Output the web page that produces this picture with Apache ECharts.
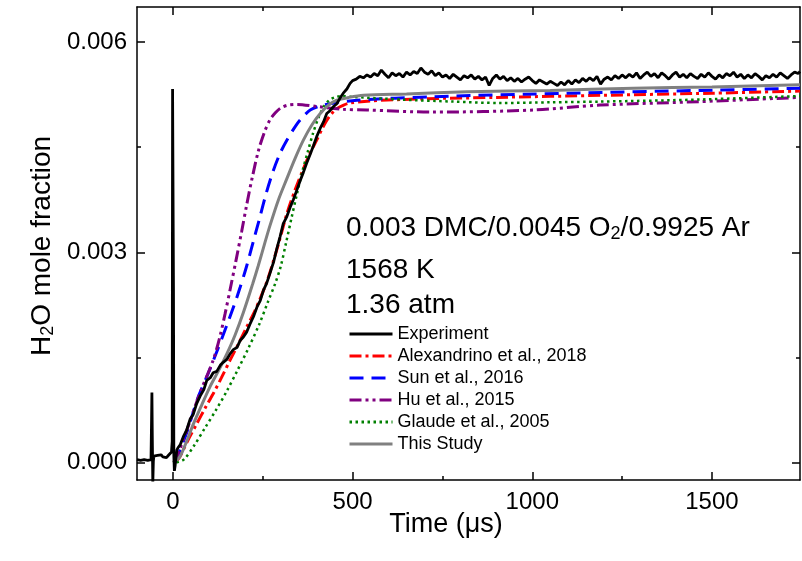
<!DOCTYPE html>
<html><head><meta charset="utf-8">
<script src="https://cdn.jsdelivr.net/npm/echarts@6/dist/echarts.min.js"></script>
<style>html,body{margin:0;padding:0;background:#fff}#c{width:802px;height:561px}</style>
</head><body><div id="c"></div>
<script>
const FONT = '"Liberation Sans", Arial, sans-serif';

const xMajorTicks = [0, 500, 1000, 1500];
const xMinorTicks = [250, 750, 1250];
const yMajorTicks = [0, 0.003, 0.006];
const yMinorTicks = [0.0015, 0.0045];

const names = ['Experiment', 'Alexandrino et al., 2018', 'Sun et al., 2016', 'Hu et al., 2015', 'Glaude et al., 2005', 'This Study'];

// Experiment: pre-shock, spikes and rise  [time (µs), mole fraction]
const expPre = [[-100,0.00004],[-95,0.00006],[-90,0.00003],[-85,0.00005],[-80,0.00004],[-75,0.00006],[-70,0.00003],[-65,0.00005],[-61,0.00004],
  [-59.5,0.0006],[-58.5,0.00100],[-57.5,0.0004],[-56,-0.0003],[-54.5,0.00002],[-53,0.00009],[-48,0.00007],[-43,0.0001],[-38,0.00008],
  [-33,0.00011],[-28,0.00008],[-23,0.0001],[-18,0.00007],[-13,0.0001],[-8,0.00008],[-4,0.00015],[-2,0.0003],[-1,0.00533],[0.5,0.00533],
  [1.5,0.0025],[2.5,0.0001],[4,-0.00012],[6,-0.00005],[8,0.00005],[11,0.00018],[14,0.00021]];
const expRise = [[20,0.00025],[30,0.00038],[38,0.00046],[48,0.00062],[56,0.00068],[66,0.00084],[76,0.00095],[86,0.00104],[94,0.00117],
  [104,0.00121],[112,0.00128],[122,0.0013],[132,0.00139],[140,0.00143],[150,0.00147],[159,0.00155],[168,0.00161],[178,0.00164],
  [187,0.00174],[196,0.00179],[205,0.00186],[214,0.00197],[224,0.00208],[234,0.00222],[243,0.00231],[252,0.00246],[261,0.00256],
  [270,0.0027],[280,0.00286],[289,0.00305],[298,0.00322],[307,0.00341],[317,0.00351],[326,0.00364],[335,0.00375],[345,0.00389],
  [354,0.00402],[363,0.00414],[372,0.00427],[382,0.0044],[391,0.00452],[400,0.00465],[410,0.00477],[419,0.00486],[428,0.00498],
  [437,0.00502],[447,0.00508],[456,0.00512],[465,0.0052],[474,0.00527],[484,0.00533],[493,0.00541],[500,0.00545]];
// Experiment plateau, sampled every 10 µs from 510 µs
const expPlateauStart = 510;
const expPlateauStep = 10;
const expPlateau = [
  0.00547,0.00551,0.00549,0.00553,0.00550,0.00555,
  0.00552,0.00560,0.00554,0.00549,0.00556,0.00552,0.00555,0.00550,0.00557,
  0.00553,0.00558,0.00555,0.00563,0.00557,0.00554,0.00559,0.00552,0.00556,0.00550,
  0.00553,0.00548,0.00554,0.00550,0.00546,0.00552,0.00549,0.00553,0.00547,0.00551,
  0.00546,0.00550,0.00538,0.00548,0.00553,0.00547,0.00551,0.00545,0.00549,0.00544,
  0.00548,0.00543,0.00547,0.00550,0.00545,0.00541,0.00546,0.00543,0.00540,0.00544,
  0.00541,0.00538,0.00543,0.00539,0.00545,0.00540,0.00546,0.00542,0.00548,0.00544,
  0.00549,0.00545,0.00551,0.00540,0.00547,0.00550,0.00546,0.00552,0.00548,0.00553,
  0.00549,0.00554,0.00550,0.00556,0.00548,0.00553,0.00557,0.00551,0.00555,0.00549,
  0.00556,0.00552,0.00547,0.00553,0.00557,0.00550,0.00554,0.00549,0.00555,0.00551,
  0.00548,0.00554,0.00550,0.00556,0.00551,0.00547,0.00553,0.00549,0.00555,0.00552,
  0.00557,0.00550,0.00554,0.00548,0.00553,0.00549,0.00555,0.00551,0.00546,0.00552,
  0.00549,0.00554,0.00550,0.00556,0.00552,0.00548,0.00553,0.00557,0.00555];
const expEnd = [[1745,0.00558]];

const alexandrino = [[5,0],[19,0.00008],[40,0.0003],[66,0.00055],[90,0.00078],[112,0.00098],[135,0.00121],[159,0.00146],[182,0.00169],
  [205,0.00193],[225,0.00213],[242,0.00233],[260,0.00256],[277,0.00283],[296,0.00316],[317,0.00355],[340,0.00389],[363,0.00419],
  [382,0.00442],[400,0.0046],[415,0.00476],[428,0.00488],[442,0.00498],[456,0.00505],[475,0.0051],[493,0.00513],[550,0.00516],
  [700,0.00519],[900,0.00521],[1200,0.00524],[1500,0.00527],[1745,0.0053]];
const sun = [[5,0],[20,0.00018],[40,0.00045],[70,0.00093],[98,0.00127],[122,0.00158],[150,0.00196],[170,0.00224],[187,0.0025],
  [205,0.0028],[225,0.00318],[242,0.0035],[260,0.00385],[279,0.00416],[298,0.00441],[317,0.0046],[345,0.00483],[365,0.00495],
  [382,0.00503],[410,0.00509],[437,0.00512],[512,0.00517],[724,0.00522],[1097,0.00527],[1468,0.00531],[1745,0.00534]];
const hu = [[5,0],[20,0.0002],[40,0.00048],[75,0.00099],[112,0.00146],[130,0.00178],[145,0.00212],[160,0.00249],[175,0.00287],
  [191,0.00329],[205,0.00367],[220,0.00405],[238,0.00445],[255,0.00472],[270,0.00489],[285,0.00499],[300,0.00506],[320,0.0051],
  [345,0.00511],[400,0.00508],[474,0.00504],[540,0.00503],[724,0.005],[1003,0.00503],[1189,0.0051],[1468,0.00515],[1745,0.00521]];
const glaude = [[10,0],[30,0.00004],[60,0.00025],[90,0.0005],[120,0.00075],[150,0.00102],[180,0.00132],[210,0.00163],[240,0.00197],
  [265,0.0023],[285,0.00256],[300,0.0028],[315,0.00314],[330,0.00349],[345,0.00383],[360,0.00415],[375,0.00443],[390,0.0047],
  [405,0.00492],[420,0.00508],[435,0.00517],[450,0.00521],[470,0.00523],[493,0.00522],[632,0.00518],[780,0.00515],[911,0.00513],
  [1050,0.00514],[1189,0.00515],[1468,0.00518],[1745,0.00523]];
const thisStudy = [[0,0],[19,0.00008],[38,0.0003],[57,0.00055],[80,0.00082],[103,0.00108],[127,0.00131],[150,0.00155],[173,0.00182],
  [196,0.00214],[222,0.00255],[237,0.0028],[255,0.00312],[270,0.00338],[293,0.00374],[317,0.00405],[340,0.00434],[363,0.0046],
  [387,0.00482],[410,0.00498],[433,0.0051],[456,0.00517],[490,0.00521],[530,0.00524],[650,0.00526],[818,0.00529],[1050,0.00531],
  [1281,0.00534],[1500,0.00536],[1745,0.00539]];

const experiment = expPre.concat(expRise,
  expPlateau.map((v, i) => [expPlateauStart + i * expPlateauStep, v]), expEnd);

const XMIN = -100, XMAX = 1745, YMIN = -0.00025, YMAX = 0.0065;
const LINE = {show: true, onZero: false, lineStyle: {color: '#000', width: 1.5}};

function xAx(position, ticks, len, withLine, withLabel) {
  return {type: 'value', min: XMIN, max: XMAX, position,
    axisLine: withLine ? LINE : {show: false, onZero: false},
    axisTick: {show: true, inside: true, length: len, customValues: ticks, lineStyle: {color: '#000', width: 1.5}},
    axisLabel: withLabel ? {show: true, customValues: ticks, color: '#000', fontSize: 24, fontFamily: FONT, margin: 10,
      formatter: v => String(v)} : {show: false},
    splitLine: {show: false}};
}
function yAx(position, ticks, len, withLine, withLabel) {
  return {type: 'value', min: YMIN, max: YMAX, position,
    axisLine: withLine ? LINE : {show: false, onZero: false},
    axisTick: {show: true, inside: true, length: len, customValues: ticks, lineStyle: {color: '#000', width: 1.5}},
    axisLabel: withLabel ? {show: true, customValues: ticks, color: '#000', fontSize: 24, fontFamily: FONT, margin: 10,
      formatter: v => v.toFixed(3)} : {show: false},
    splitLine: {show: false}};
}

function line(name, data, color, width, type, z, smooth) {
  return {name, type: 'line', data, symbol: 'none', showSymbol: false, z, smooth,
    lineStyle: {color, width, type}, itemStyle: {color}, emphasis: {disabled: true}};
}

const chart = echarts.init(document.getElementById('c'), null, {renderer: 'canvas'});
chart.setOption({
  animation: false,
  backgroundColor: '#fff',
  grid: {left: 137, right: 2, top: 7, bottom: 81, containLabel: false},
  xAxis: [xAx('bottom', xMajorTicks, 8, true, true), xAx('bottom', xMinorTicks, 4, false, false),
          xAx('top', xMajorTicks, 8, true, false), xAx('top', xMinorTicks, 4, false, false)],
  yAxis: [yAx('left', yMajorTicks, 8, true, true), yAx('left', yMinorTicks, 4, false, false),
          yAx('right', yMajorTicks, 8, true, false), yAx('right', yMinorTicks, 4, false, false)],
  legend: {data: names, orient: 'vertical', left: 348, top: 325, padding: 0, itemWidth: 43, itemHeight: 14, itemGap: 4,
    itemStyle: {opacity: 0}, lineStyle: {width: 3},
    textStyle: {fontSize: 18, color: '#000', fontFamily: FONT, lineHeight: 14}, selectedMode: false},
  series: [
    line(names[1], alexandrino, '#ff0000', 3, [12, 4, 3, 4], 2, 0.3),
    line(names[2], sun, '#0000ff', 3, [14, 8], 2, 0.3),
    line(names[3], hu, '#800080', 3, [12, 4, 3, 4, 3, 4], 2, 0.3),
    line(names[4], glaude, '#008000', 2.5, [2.5, 3.5], 2, 0.3),
    line(names[5], thisStudy, '#808080', 3, 'solid', 3, 0.3),
    line(names[0], experiment, '#000000', 2.8, 'solid', 4, false)
  ],
  graphic: [
    {type: 'text', x: 346, y: 228, style: {text: '{a|0.003 DMC/0.0045 O}{s|2}{a|/0.9925 Ar}', textVerticalAlign: 'middle',
      rich: {a: {fontSize: 28, fontFamily: FONT, lineHeight: 30, verticalAlign: 'middle', fill: '#000'},
             s: {fontSize: 18, fontFamily: FONT, lineHeight: 14, verticalAlign: 'bottom', fill: '#000'}}}},
    {type: 'text', x: 346, y: 270, style: {text: '1568 K', fontSize: 28, fontFamily: FONT, fill: '#000', textVerticalAlign: 'middle'}},
    {type: 'text', x: 346, y: 305, style: {text: '1.36 atm', fontSize: 28, fontFamily: FONT, fill: '#000', textVerticalAlign: 'middle'}},
    {type: 'text', x: 446, y: 525, style: {text: 'Time (\u03bcs)', fontSize: 27, fontFamily: FONT, fill: '#000', textAlign: 'center', textVerticalAlign: 'middle'}},
    {type: 'text', x: 42, y: 246, rotation: Math.PI / 2, style: {text: '{a|H}{s|2}{a|O mole fraction}', textAlign: 'center', textVerticalAlign: 'middle',
      rich: {a: {fontSize: 28, fontFamily: FONT, lineHeight: 30, verticalAlign: 'middle', fill: '#000'},
             s: {fontSize: 18, fontFamily: FONT, lineHeight: 14, verticalAlign: 'bottom', fill: '#000'}}}}
  ]
});
</script></body></html>
